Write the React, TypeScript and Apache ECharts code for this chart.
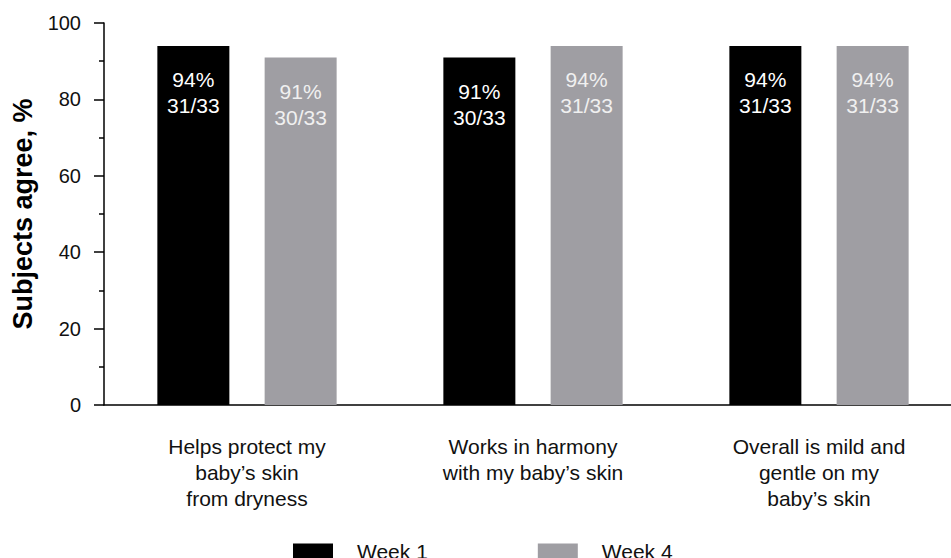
import React, { useEffect, useRef } from "react";
import * as echarts from "echarts";

const categories = [
  "Helps protect my\nbaby’s skin\nfrom dryness",
  "Works in harmony\nwith my baby’s skin",
  "Overall is mild and\ngentle on my\nbaby’s skin",
];
const week1Values = [94, 91, 94];
const week1Counts = ["31/33", "30/33", "31/33"];
const week4Values = [91, 94, 94];
const week4Counts = ["30/33", "31/33", "31/33"];
const seriesNames = ["Week 1", "Week 4"];

const FONT = "Liberation Sans, Arial, sans-serif";

export default function App() {
  const ref = useRef<HTMLDivElement>(null);
  useEffect(() => {
    if (!ref.current) return;
    const chart = echarts.init(ref.current, undefined, { renderer: "svg" });
    const mkLabel = (counts: string[], color: string) => ({
      show: true,
      position: "insideTop",
      distance: 21,
      color,
      fontSize: 21,
      lineHeight: 26,
      fontFamily: FONT,
      formatter: (p: any) => `${p.value}%\n${counts[p.dataIndex]}`,
    });
    chart.setOption({
      animation: false,
      textStyle: { fontFamily: FONT },
      grid: { left: 104, top: 23, bottom: 153, width: 858, containLabel: false, outerBoundsMode: "none" },
      legend: {
        left: 293,
        top: 541,
        padding: 0,
        itemWidth: 40,
        itemHeight: 16,
        itemGap: 110,
        icon: "rect",
        data: seriesNames,
        textStyle: { fontSize: 21, color: "#111", fontFamily: FONT, padding: [0, 0, 0, 19] },
      },
      xAxis: {
        type: "category",
        data: categories,
        axisLine: { lineStyle: { color: "#000", width: 1.5 } },
        axisTick: { alignWithLabel: true, length: 14, lineStyle: { color: "#000", width: 1.5 } },
        axisLabel: { fontSize: 21, lineHeight: 26, color: "#111", margin: 28, fontFamily: FONT },
      },
      yAxis: {
        type: "value",
        min: 0,
        max: 100,
        interval: 20,
        name: "Subjects agree, %",
        nameLocation: "middle",
        nameGap: 68,
        nameTextStyle: { fontSize: 27, fontWeight: "bold", color: "#000", fontFamily: FONT },
        axisLine: { show: true, lineStyle: { color: "#000", width: 1.5 } },
        axisTick: { show: true, length: 10, lineStyle: { color: "#000", width: 1.5 } },
        minorTick: { show: true, splitNumber: 2, length: 5, lineStyle: { color: "#000", width: 1.5 } },
        splitLine: { show: false },
        axisLabel: { fontSize: 20, color: "#111", margin: 23, fontFamily: FONT },
      },
      series: [
        {
          name: seriesNames[0],
          type: "bar",
          data: week1Values,
          barWidth: 72,
          barGap: "49%",
          itemStyle: { color: "#000000" },
          label: mkLabel(week1Counts, "#ffffff"),
        },
        {
          name: seriesNames[1],
          type: "bar",
          data: week4Values,
          barWidth: 72,
          itemStyle: { color: "#9f9ea3" },
          label: mkLabel(week4Counts, "#f0f0f0"),
        },
      ],
    });
    return () => chart.dispose();
  }, []);
  return <div ref={ref} style={{ width: 951, height: 558, position: "absolute", left: 0, top: 0 }} />;
}
